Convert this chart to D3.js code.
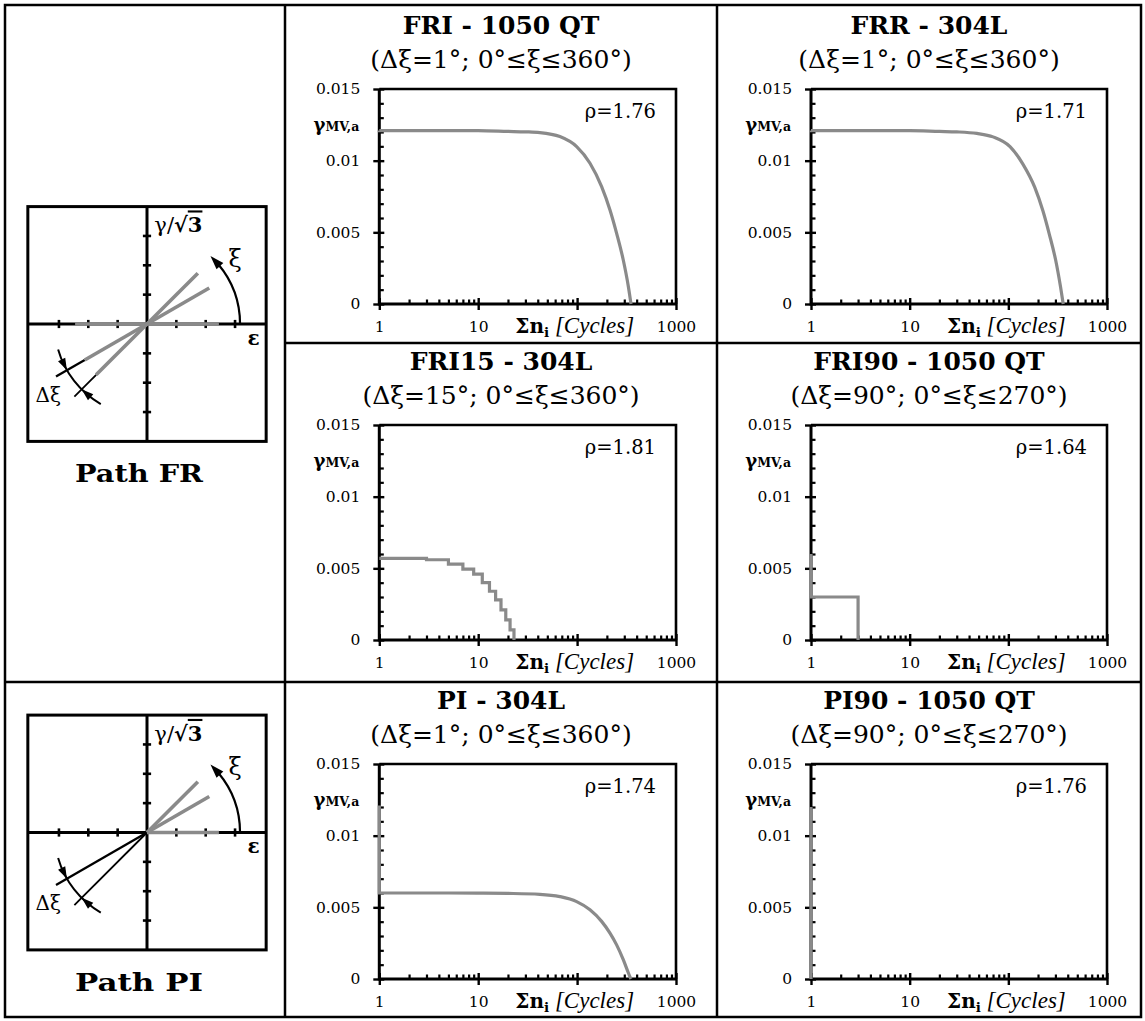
<!DOCTYPE html>
<html>
<head>
<meta charset="utf-8">
<script src="https://cdn.jsdelivr.net/npm/d3@7"></script>
<style>
  html, body { margin: 0; padding: 0; background: #fff; }
  svg { display: block; }
</style>
</head>
<body>
<svg id="fig" width="1145" height="1021"></svg>
<script>
// ---------------- data ----------------
const panelTitles = ["FRI - 1050 QT", "FRR - 304L", "FRI15 - 304L", "FRI90 - 1050 QT", "PI - 304L", "PI90 - 1050 QT"];
const panelSubtitles = ["(Δξ=1°; 0°≤ξ≤360°)", "(Δξ=1°; 0°≤ξ≤360°)", "(Δξ=15°; 0°≤ξ≤360°)",
                        "(Δξ=90°; 0°≤ξ≤270°)", "(Δξ=1°; 0°≤ξ≤360°)", "(Δξ=90°; 0°≤ξ≤270°)"];
const panelRho = ["1.76", "1.71", "1.81", "1.64", "1.74", "1.76"];

// cumulated cycles Σn_i and shear strain amplitude γ_MV,a
const friCycles = [1, 5, 10, 20, 30, 42, 67, 99, 135, 177, 215, 251, 293, 330, 351];
const friGamma  = [0.0121, 0.0121, 0.01209, 0.01204, 0.01201, 0.01196, 0.01168, 0.01098, 0.00982, 0.00819, 0.00656, 0.00493, 0.00307, 0.00121, 0];

const frrCycles = [1, 10, 20, 30, 48, 70, 104, 140, 185, 224, 260, 302, 338, 360];
const frrGamma  = [0.0121, 0.01209, 0.01204, 0.01201, 0.0119, 0.01166, 0.01098, 0.00978, 0.00815, 0.0065, 0.00488, 0.00305, 0.0012, 0];

const fri15Cycles = [1, 3, 5, 7, 9, 11, 13, 15, 17, 19, 21, 23];
const fri15Gamma  = [0.0057, 0.0056, 0.0053, 0.00495, 0.0046, 0.0040, 0.0034, 0.0028, 0.0021, 0.0014, 0.0007, 0];

const fri90Cycles = [1, 1, 3];
const fri90Gamma  = [0.006, 0.003, 0];

const piCycles = [1, 1, 5, 10, 20, 42, 67, 99, 135, 177, 215, 251, 293, 330, 350];
const piGamma  = [0.0121, 0.006, 0.006, 0.00599, 0.00597, 0.00591, 0.00575, 0.0054, 0.00483, 0.00402, 0.0032, 0.00238, 0.00135, 0.00042, 0];

const pi90Cycles = [1, 1];
const pi90Gamma  = [0.012, 0];

const yTickValues = [0, 0.005, 0.01, 0.015];
const xTickValues = [1, 10, 100, 1000];
const xTickLabels = ["1", "10", "", "1000"];

// loading-path sketches: directions ξ (deg) and axis ticks
const pathAngles = [0, 30, 45];
const pathTicks = [-3, -2, -1, 1, 2, 3];

// ---------------- layout ----------------
const svg = d3.select("#fig");
const GRAY = "#8a8a8a";
const SERIF = "'DejaVu Serif', 'Liberation Serif', serif";

const grid = { left: 5, right: 1141, top: 5, bottom: 1017, col1: 285, col2: 717, row1: 343, row2: 682 };
const cols = [{ L: 379.3, R: 676, cx: 501 }, { L: 811, R: 1107, cx: 929 }];
const rows = [{ T: 89, B: 304 }, { T: 425, B: 640 }, { T: 764, B: 979 }];

const panels = [
  { cycles: friCycles,   gamma: friGamma,   kind: "smooth", col: 0, row: 0 },
  { cycles: frrCycles,   gamma: frrGamma,   kind: "smooth", col: 1, row: 0 },
  { cycles: fri15Cycles, gamma: fri15Gamma, kind: "step",   col: 0, row: 1 },
  { cycles: fri90Cycles, gamma: fri90Gamma, kind: "step",   col: 1, row: 1 },
  { cycles: piCycles,    gamma: piGamma,    kind: "smooth", col: 0, row: 2 },
  { cycles: pi90Cycles,  gamma: pi90Gamma,  kind: "step",   col: 1, row: 2 }
];

// ---------------- table grid ----------------
const gridG = svg.append("g").attr("stroke", "#000").attr("stroke-width", 2.5).attr("fill", "none");
gridG.append("rect").attr("x", grid.left).attr("y", grid.top)
  .attr("width", grid.right - grid.left).attr("height", grid.bottom - grid.top);
gridG.append("line").attr("x1", grid.col1).attr("x2", grid.col1).attr("y1", grid.top).attr("y2", grid.bottom);
gridG.append("line").attr("x1", grid.col2).attr("x2", grid.col2).attr("y1", grid.top).attr("y2", grid.bottom);
gridG.append("line").attr("x1", grid.col1).attr("x2", grid.right).attr("y1", grid.row1).attr("y2", grid.row1);
gridG.append("line").attr("x1", grid.left).attr("x2", grid.right).attr("y1", grid.row2).attr("y2", grid.row2);

// ---------------- fatigue panels ----------------
const yMinor = d3.range(1, 15).map(k => k / 1000).filter(v => !yTickValues.some(m => Math.abs(m - v) < 1e-9));
const xMinor = [1, 10, 100].flatMap(d => d3.range(2, 10).map(k => k * d));

function seriesPath(x, y, cycles, gamma, kind) {
  const pts = cycles.map((c, i) => [x(c), y(gamma[i])]);
  if (kind === "step") return d3.line().curve(d3.curveStepAfter)(pts);
  // leading vertical jumps are straight; the rest follows a monotone curve
  let i = 0;
  while (i + 1 < pts.length && pts[i + 1][0] === pts[i][0]) i++;
  const lead = pts.slice(0, i + 1);
  const rest = pts.slice(i);
  let d = "M" + lead.map(p => p.join(",")).join("L");
  if (rest.length > 1) d += d3.line().curve(d3.curveMonotoneX)(rest).replace(/^M/, "L");
  return d;
}

panels.forEach((p, idx) => {
  const c = cols[p.col], r = rows[p.row];
  const x = d3.scaleLog().domain([1, 1000]).range([c.L, c.R]);
  const y = d3.scaleLinear().domain([0, 0.015]).range([r.B, r.T]);
  const g = svg.append("g");

  // titles
  g.append("text").attr("x", c.cx).attr("y", r.T - 55).attr("text-anchor", "middle")
    .attr("font-family", SERIF).attr("font-weight", "bold").attr("font-size", 25)
    .text(panelTitles[idx]);
  g.append("text").attr("x", c.cx).attr("y", r.T - 21).attr("text-anchor", "middle")
    .attr("font-family", SERIF).attr("font-size", 25)
    .text(panelSubtitles[idx]);

  // y axis
  const gy = g.append("g").attr("transform", `translate(${c.L},0)`)
    .call(d3.axisLeft(y).tickValues(yTickValues).tickSize(6).tickPadding(13)
      .tickFormat(d => d === 0 ? "0" : String(d)));
  gy.select(".domain").remove();
  gy.selectAll(".tick line").attr("x1", 5).attr("stroke-width", 2.4);
  gy.selectAll(".tick text").attr("font-family", SERIF).attr("font-size", 15.5).attr("fill", "#000");
  const gym = g.append("g").attr("transform", `translate(${c.L},0)`)
    .call(d3.axisRight(y).tickValues(yMinor).tickSize(4.5).tickFormat(""));
  gym.select(".domain").remove();
  gym.selectAll(".tick line").attr("stroke-width", 2.2);

  // x axis
  const gx = g.append("g").attr("transform", `translate(0,${r.B})`)
    .call(d3.axisBottom(x).tickValues(xTickValues).tickSize(6).tickPadding(11)
      .tickFormat((d, i) => xTickLabels[i]));
  gx.select(".domain").remove();
  gx.selectAll(".tick line").attr("y1", -6).attr("stroke-width", 2.4);
  gx.selectAll(".tick text").attr("font-family", SERIF).attr("font-size", 15.5).attr("fill", "#000");
  const gxm = g.append("g").attr("transform", `translate(0,${r.B})`)
    .call(d3.axisTop(x).tickValues(xMinor).tickSize(4.5).tickFormat(""));
  gxm.select(".domain").remove();
  gxm.selectAll(".tick line").attr("stroke-width", 2.2);

  // plot frame: heavier axes on the left and bottom
  g.append("path").attr("d", `M${c.L},${r.T}H${c.R}V${r.B}`)
    .attr("fill", "none").attr("stroke", "#000").attr("stroke-width", 2.6);
  g.append("path").attr("d", `M${c.L},${r.T}V${r.B}H${c.R}`)
    .attr("fill", "none").attr("stroke", "#000").attr("stroke-width", 3);

  // axis labels
  const yl = g.append("text").attr("x", c.L - 20).attr("y", r.T + 42).attr("text-anchor", "end")
    .attr("font-family", SERIF).attr("font-weight", "bold");
  yl.append("tspan").attr("font-size", 18).text("γ");
  yl.append("tspan").attr("font-size", 12.5).text("MV,a");

  const xl = g.append("text").attr("x", c.L + 136).attr("y", r.B + 29).attr("font-family", SERIF);
  xl.append("tspan").attr("font-size", 20).attr("font-weight", "bold").text("Σn");
  xl.append("tspan").attr("font-size", 13.5).attr("font-weight", "bold").attr("dy", 4).text("i");
  xl.append("tspan").attr("font-size", 23).attr("dy", -4)
    .attr("font-family", "'Liberation Serif', serif").attr("font-style", "italic").text(" [Cycles]");

  // stress-ratio annotation
  g.append("text").attr("x", c.R - 20).attr("y", r.T + 29).attr("text-anchor", "end")
    .attr("font-family", SERIF).attr("font-size", 19.5).text("ρ=" + panelRho[idx]);

  // damage curve
  g.append("path").attr("d", seriesPath(x, y, p.cycles, p.gamma, p.kind))
    .attr("fill", "none").attr("stroke", GRAY).attr("stroke-width", 3.2)
    .attr("stroke-linejoin", "miter").attr("stroke-linecap", "butt");
});

// ---------------- loading-path sketches ----------------
function drawSketch(originY, mode, label) {
  const u = 29.35;
  const sx = d3.scaleLinear().domain([0, 1]).range([147, 147 + u]);
  const sy = d3.scaleLinear().domain([0, 1]).range([originY, originY - u]);
  const pt = (deg, rad) => [sx(rad * Math.cos(deg * Math.PI / 180)), sy(rad * Math.sin(deg * Math.PI / 180))];
  const g = svg.append("g");
  const bx = 4.06, by = 4.0;

  g.append("rect").attr("x", sx(-bx)).attr("y", sy(by)).attr("width", sx(bx) - sx(-bx)).attr("height", sy(-by) - sy(by))
    .attr("fill", "none").attr("stroke", "#000").attr("stroke-width", 3);
  g.append("line").attr("x1", sx(-bx)).attr("x2", sx(bx)).attr("y1", sy(0)).attr("y2", sy(0))
    .attr("stroke", "#000").attr("stroke-width", 3);
  g.append("line").attr("x1", sx(0)).attr("x2", sx(0)).attr("y1", sy(by)).attr("y2", sy(-by))
    .attr("stroke", "#000").attr("stroke-width", 3);
  g.selectAll(".hx").data(pathTicks).join("line")
    .attr("x1", d => sx(d)).attr("x2", d => sx(d)).attr("y1", sy(0.14)).attr("y2", sy(-0.14))
    .attr("stroke", "#000").attr("stroke-width", 2.6);
  g.selectAll(".vy").data(pathTicks).join("line")
    .attr("y1", d => sy(d)).attr("y2", d => sy(d)).attr("x1", sx(-0.14)).attr("x2", sx(0.14))
    .attr("stroke", "#000").attr("stroke-width", 2.6);

  const seg = (deg, r0, r1) => { const a = pt(deg, r0), b = pt(deg, r1); return `M${a}L${b}`; };
  const rLoad = 2.45;

  // black extensions beyond the loaded branch in the third quadrant
  const extStart = mode === "full" ? rLoad : 0;
  g.append("path").attr("d", seg(210, extStart, 3.58)).attr("stroke", "#000").attr("stroke-width", 2.3);
  g.append("path").attr("d", seg(225, extStart, 3.5)).attr("stroke", "#000").attr("stroke-width", 1.8);

  // loaded directions
  pathAngles.forEach(a => {
    g.append("path").attr("d", seg(a, mode === "full" ? -rLoad : 0, rLoad))
      .attr("stroke", GRAY).attr("stroke-width", 3.6).attr("stroke-linecap", "butt");
  });

  // arcs with arrowheads
  const arc = (r, a0, a1) => {
    const p = d3.path();
    p.arc(sx(0), sy(0), r * u, -a0 * Math.PI / 180, -a1 * Math.PI / 180, true);
    return p.toString();
  };
  const arrow = (r, tipDeg, dir, len, half) => {
    const tip = pt(tipDeg, r);
    const base = pt(tipDeg - dir * (len / (r * u)) * 180 / Math.PI, r);
    const vx = tip[0] - base[0], vy = tip[1] - base[1], n = Math.hypot(vx, vy);
    const nx = -vy / n * half, ny = vx / n * half;
    return `M${tip}L${base[0] + nx},${base[1] + ny}L${base[0] - nx},${base[1] - ny}Z`;
  };
  g.append("path").attr("d", arc(3.17, 0, 40)).attr("fill", "none").attr("stroke", "#000").attr("stroke-width", 2.2);
  g.append("path").attr("d", arrow(3.17, 47, 1, 14, 4.6)).attr("fill", "#000");
  g.append("path").attr("d", arc(3.15, 196, 240)).attr("fill", "none").attr("stroke", "#000").attr("stroke-width", 2);
  g.append("path").attr("d", arrow(3.15, 210, 1, 12, 4)).attr("fill", "#000");
  g.append("path").attr("d", arrow(3.15, 225, -1, 12, 4)).attr("fill", "#000");

  // labels
  const gl = g.append("text").attr("x", sx(0.25)).attr("y", sy(3.12)).attr("font-family", SERIF).attr("font-size", 21);
  gl.append("tspan").text("γ/");
  gl.append("tspan").attr("font-weight", "bold").text("√");
  gl.append("tspan").attr("font-weight", "bold").style("text-decoration", "overline").text("3");
  g.append("text").attr("x", sx(2.78)).attr("y", sy(1.95)).attr("font-family", SERIF).attr("font-size", 24).text("ξ");
  g.append("text").attr("x", sx(3.42)).attr("y", sy(-0.7)).attr("font-family", SERIF).attr("font-weight", "bold")
    .attr("font-size", 20).text("ε");
  g.append("text").attr("x", sx(-3.8)).attr("y", sy(-2.65)).attr("font-family", SERIF).attr("font-size", 20).text("Δξ");
  g.append("text").attr("x", 139).attr("y", sy(-by) + 41).attr("text-anchor", "middle")
    .attr("font-family", SERIF).attr("font-weight", "bold").attr("font-size", 25)
    .attr("textLength", 128).attr("lengthAdjust", "spacingAndGlyphs").text(label);
}

drawSketch(324, "full", "Path FR");
drawSketch(832.5, "half", "Path PI");
</script>
</body>
</html>
